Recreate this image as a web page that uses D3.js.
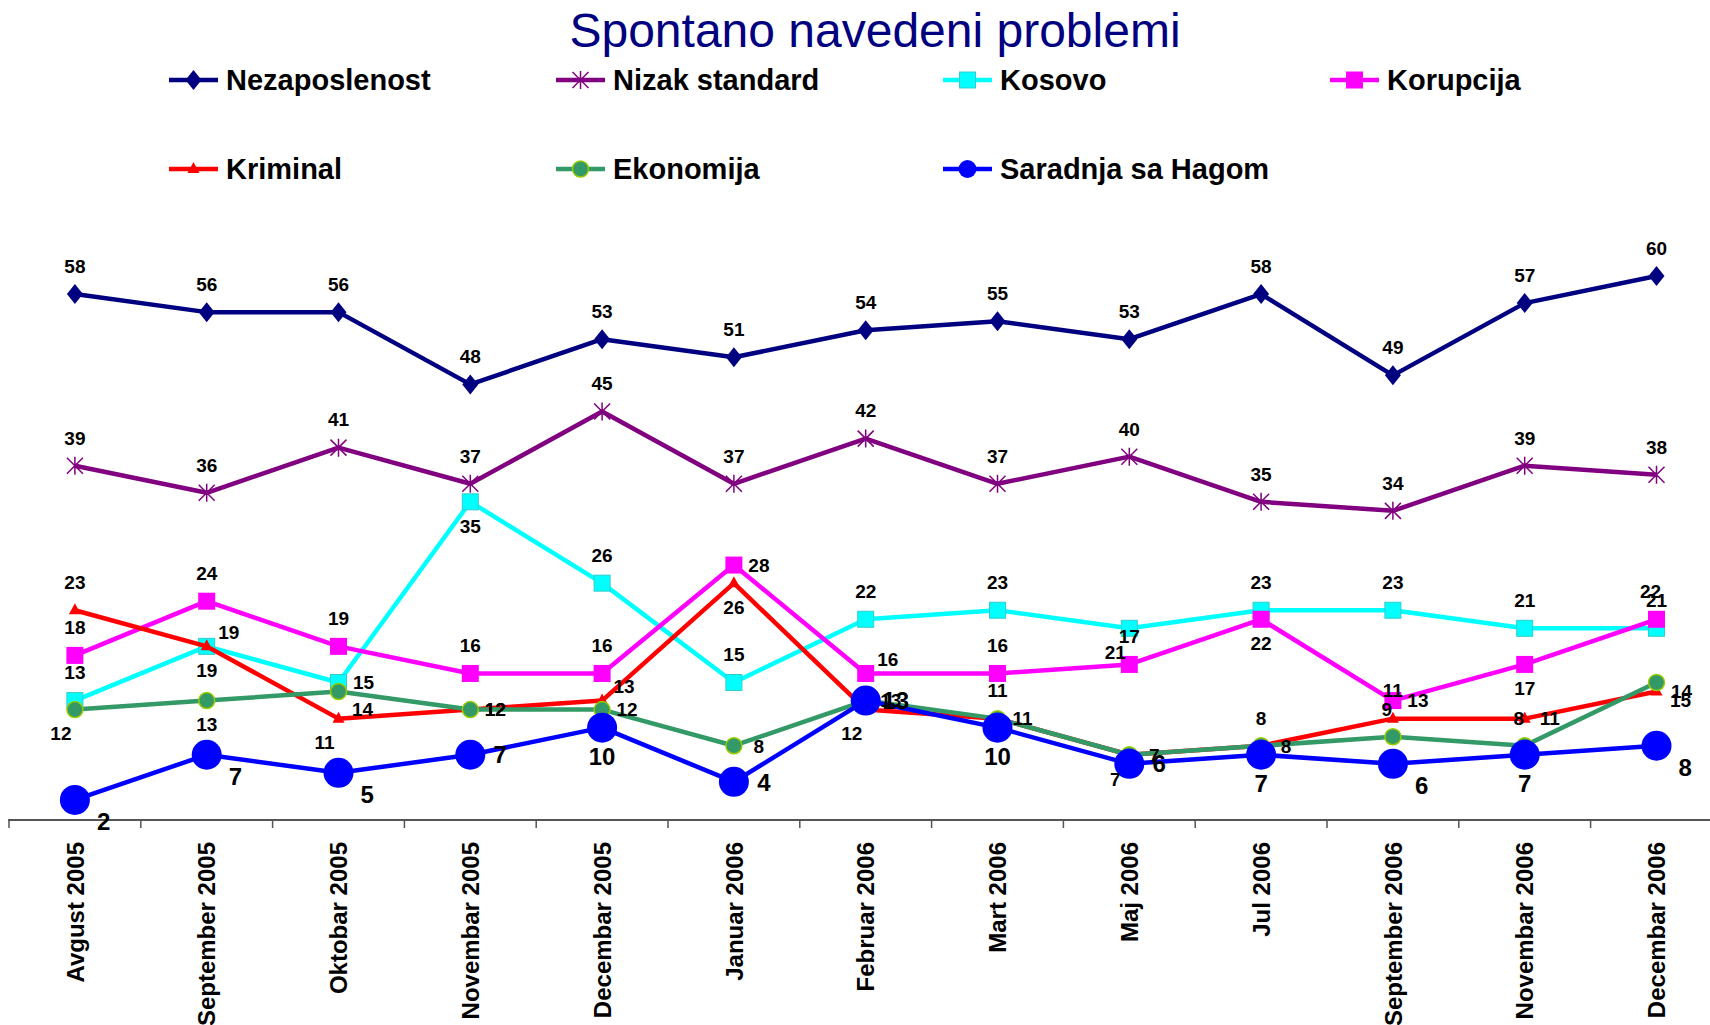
<!DOCTYPE html>
<html>
<head>
<meta charset="utf-8">
<script src="https://cdn.jsdelivr.net/npm/d3@7"></script>
<style>
  html, body { margin: 0; padding: 0; background: #fff; }
  svg { display: block; }
</style>
</head>
<body>
<div id="chart"></div>
<script>
const categories = ["Avgust 2005", "September 2005", "Oktobar 2005", "Novembar 2005", "Decembar 2005",
  "Januar 2006", "Februar 2006", "Mart 2006", "Maj 2006", "Jul 2006", "September 2006",
  "Novembar 2006", "Decembar 2006"];

const nezaposlenost   = [58, 56, 56, 48, 53, 51, 54, 55, 53, 58, 49, 57, 60];
const nizakStandard   = [39, 36, 41, 37, 45, 37, 42, 37, 40, 35, 34, 39, 38];
const kosovo          = [13, 19, 15, 35, 26, 15, 22, 23, 21, 23, 23, 21, 21];
const korupcija       = [18, 24, 19, 16, 16, 28, 16, 16, 17, 22, 13, 17, 22];
const kriminal        = [23, 19, 11, 12, 13, 26, 12, 11, 7, 8, 11, 11, 14];
const ekonomija       = [12, 13, 14, 12, 12, 8, 13, 11, 7, 8, 9, 8, 15];
const saradnjaSaHagom = [2, 7, 5, 7, 10, 4, 13, 10, 6, 7, 6, 7, 8];

// where each data label sits relative to its point
const labelPlace = {
  nezaposlenost:   "t t t t t t t t t t t t t",
  nizakStandard:   "t t t t t t t t t t t t t",
  kosovo:          "t b r b t t t t bl t t t t",
  korupcija:       "t t t t t r tr t t b r b tl",
  kriminal:        "t tr bl r tr b bl r bl r t r r",
  ekonomija:       "bl b br r r r r t r t tl tl br",
  saradnjaSaHagom: "br br br r b r r b r b br b br"
};

const series = [
  { name: "Nezaposlenost", values: nezaposlenost, key: "nezaposlenost", color: "#000080", marker: "diamond" },
  { name: "Nizak standard", values: nizakStandard, key: "nizakStandard", color: "#800080", marker: "star" },
  { name: "Kosovo", values: kosovo, key: "kosovo", color: "#00ffff", marker: "square" },
  { name: "Korupcija", values: korupcija, key: "korupcija", color: "#ff00ff", marker: "squareBig" },
  { name: "Kriminal", values: kriminal, key: "kriminal", color: "#ff0000", marker: "triangle" },
  { name: "Ekonomija", values: ekonomija, key: "ekonomija", color: "#339966", marker: "circle" },
  { name: "Saradnja sa Hagom", values: saradnjaSaHagom, key: "saradnjaSaHagom", color: "#0000ff", marker: "bigCircle" }
];

const width = 1710, height = 1025;
const axisY = 820;

const svg = d3.select("#chart").append("svg")
  .attr("width", width)
  .attr("height", height)
  .style("font-family", "'Liberation Sans', Arial, sans-serif");

const x = d3.scaleBand()
  .domain(categories)
  .range([9, 9 + categories.length * 131.8]);

const y = d3.scaleLinear()
  .domain([0, 60])
  .range([818, 276]);

const cx = i => x(categories[i]) + x.bandwidth() / 2;

// title
svg.append("text")
  .attr("x", 875)
  .attr("y", 47)
  .attr("text-anchor", "middle")
  .attr("font-size", 48)
  .attr("fill", "#000080")
  .text("Spontano navedeni problemi");

// x axis
const gx = svg.append("g")
  .attr("transform", `translate(0,${axisY})`)
  .call(d3.axisBottom(x).tickSize(0).tickPadding(0));
gx.select(".domain").remove();
gx.selectAll(".tick text")
  .attr("transform", "rotate(-90)")
  .attr("text-anchor", "end")
  .attr("x", -22)
  .attr("y", 0)
  .attr("dy", "0.36em")
  .attr("font-size", 24)
  .attr("font-weight", "bold")
  .attr("font-family", "'Liberation Sans', Arial, sans-serif")
  .attr("fill", "#000");

svg.append("line")
  .attr("x1", 8).attr("x2", width)
  .attr("y1", axisY).attr("y2", axisY)
  .attr("stroke", "#555").attr("stroke-width", 2);

svg.selectAll("line.bound")
  .data(d3.range(categories.length + 1))
  .enter()
  .append("line")
  .attr("class", "bound")
  .attr("x1", i => x.range()[0] + i * x.step())
  .attr("x2", i => x.range()[0] + i * x.step())
  .attr("y1", axisY)
  .attr("y2", axisY + 8)
  .attr("stroke", "#555")
  .attr("stroke-width", 1.5);

// markers
function drawMarker(g, type, color, legend) {
  if (type === "diamond") {
    g.append("path").attr("d", "M0,-10L8,0L0,10L-8,0Z").attr("fill", color);
  } else if (type === "star") {
    const s = 8;
    g.append("path")
      .attr("d", `M0,${-s - 1}V${s + 1}M${-s},${-s}L${s},${s}M${-s},${s}L${s},${-s}`)
      .attr("stroke", color).attr("stroke-width", 1.5).attr("fill", "none");
  } else if (type === "square") {
    g.append("rect").attr("x", -8).attr("y", -8).attr("width", 16).attr("height", 16)
      .attr("fill", color).attr("stroke", "#33cccc").attr("stroke-width", 1);
  } else if (type === "squareBig") {
    g.append("rect").attr("x", -8.5).attr("y", -8.5).attr("width", 17).attr("height", 17)
      .attr("fill", color);
  } else if (type === "triangle") {
    g.append("path").attr("d", "M0,-7L6,4L-6,4Z").attr("fill", color);
  } else if (type === "circle") {
    g.append("circle").attr("r", 8).attr("fill", color).attr("stroke", "#99cc00").attr("stroke-width", 1.5);
  } else if (type === "bigCircle") {
    g.append("circle").attr("r", legend ? 9 : 15).attr("fill", color);
  }
}

const line = d3.line()
  .x((d, i) => cx(i))
  .y(d => y(d));

series.forEach(s => {
  const g = svg.append("g");
  g.append("path")
    .datum(s.values)
    .attr("d", line)
    .attr("fill", "none")
    .attr("stroke", s.color)
    .attr("stroke-width", 4.5)
    .attr("stroke-linejoin", "round");
  s.values.forEach((v, i) => {
    const m = g.append("g").attr("transform", `translate(${cx(i)},${y(v)})`);
    drawMarker(m, s.marker, s.color, false);
  });
});

// data labels
const offsets = {
  t: [0, -28], b: [0, 24], r: [25, 0], l: [-25, 0],
  tr: [22, -14], br: [24, 18], bl: [-14, 24], tl: [-6, -28]
};

series.forEach(s => {
  const big = s.key === "saradnjaSaHagom";
  const places = labelPlace[s.key].split(" ");
  const k = big ? 1.2 : 1;
  svg.selectAll(null)
    .data(s.values)
    .enter()
    .append("text")
    .attr("x", (d, i) => cx(i) + offsets[places[i]][0] * k)
    .attr("y", (d, i) => y(d) + offsets[places[i]][1] * k)
    .attr("dy", "0.36em")
    .attr("text-anchor", "middle")
    .attr("font-size", big ? 24 : 19)
    .attr("font-weight", "bold")
    .attr("fill", "#000")
    .text(d => d);
});

// legend
const legendCols = [169, 556, 943, 1330];
const legendRows = [80, 169];
series.forEach((s, i) => {
  const lx = legendCols[i % 4];
  const ly = legendRows[Math.floor(i / 4)];
  const g = svg.append("g").attr("transform", `translate(${lx},${ly})`);
  g.append("line")
    .attr("x1", 0).attr("x2", 49)
    .attr("stroke", s.color)
    .attr("stroke-width", 4.5);
  const m = g.append("g").attr("transform", "translate(24.5,0)");
  drawMarker(m, s.marker, s.color, true);
  g.append("text")
    .attr("x", 57)
    .attr("dy", "0.36em")
    .attr("font-size", 29)
    .attr("font-weight", "bold")
    .attr("fill", "#000")
    .text(s.name);
});
</script>
</body>
</html>
